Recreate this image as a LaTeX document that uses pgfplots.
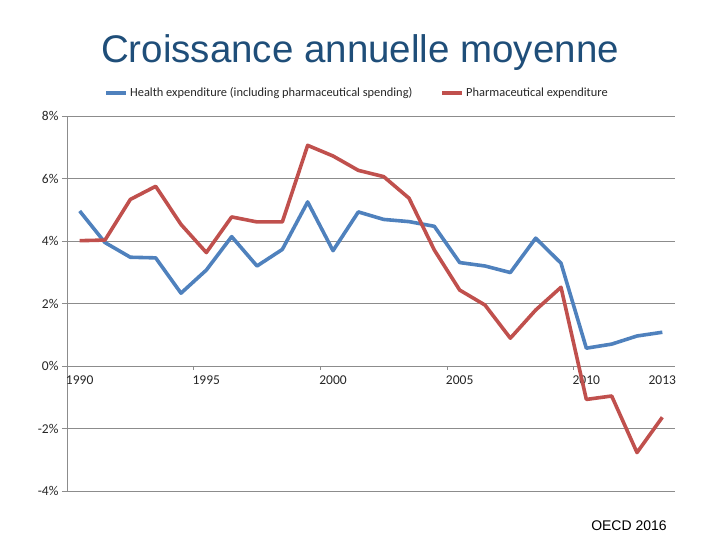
\documentclass[border=0pt]{standalone}
\usepackage{fontspec}
\setmainfont{Carlito}
\newfontfamily\arialfont{Liberation Sans}
\usepackage{pgfplots}
\pgfplotsset{compat=1.18}
\definecolor{hblue}{HTML}{4F81BD}
\definecolor{pred}{HTML}{C0504D}
\definecolor{axisgray}{HTML}{8C8C8C}
\definecolor{titleblue}{HTML}{1F4E79}

\begin{document}
\begin{tikzpicture}
\path[use as bounding box] (0,0) rectangle (720pt,540pt);
\node[anchor=base, font=\arialfont\fontsize{38.5}{42}\selectfont, text=titleblue, inner sep=0] at (360pt,477pt) {Croissance annuelle moyenne};
\begin{axis}[
    at={(67pt,49pt)}, anchor=south west,
    width=608pt, height=375pt, scale only axis,
    xmin=-0.5, xmax=23.5, ymin=-4, ymax=8,
    axis x line=middle, axis y line=left,
    axis line style={axisgray, line width=0.8pt, -},
    xtick={0,5,10,15,20,23},
    xticklabels={1990,1995,2000,2005,2010,2013},
    xtick style={draw=none},
    extra x ticks={4.5,9.5,14.5,19.5},
    extra x tick labels={},
    extra x tick style={xtick style={draw=axisgray, line width=0.8pt}, tick align=outside, major tick length=4pt},
    ytick={-4,-2,0,2,4,6,8},
    yticklabels={-4\%,-2\%,0\%,2\%,4\%,6\%,8\%},
    ytick style={axisgray, line width=0.8pt},
    tick align=outside, major tick length=5pt,
    ymajorgrids, major grid style={axisgray, line width=0.8pt},
    tick label style={font=\fontsize{13.5}{15}\selectfont, text=black!85},
    xticklabel style={yshift=-1pt},
    clip=false,
    legend columns=2,
    legend style={at={(0.477,1.0613)}, anchor=center, draw=none, fill=none,
        font=\fontsize{12.4}{14}\selectfont, text=black!85,
        /tikz/every even column/.append style={column sep=26pt}},
    legend cell align=left,
    legend image code/.code={\draw[#1, line width=3.8pt] (0pt,0pt) -- (20pt,0pt);},
]
% x = year - 1990
\addplot[hblue, line width=3.6pt, line join=round] coordinates {
 (0,4.96) (1,3.95) (2,3.48) (3,3.46) (4,2.33) (5,3.07)
 (6,4.14) (7,3.20) (8,3.73) (9,5.25) (10,3.69) (11,4.93)
 (12,4.69) (13,4.62) (14,4.47) (15,3.31) (16,3.20) (17,2.99)
 (18,4.09) (19,3.29) (20,0.57) (21,0.70) (22,0.96) (23,1.08)};
\addlegendentry{Health expenditure (including pharmaceutical spending)}
\addplot[pred, line width=3.6pt, line join=round] coordinates {
 (0,4.01) (1,4.03) (2,5.33) (3,5.75) (4,4.53) (5,3.63)
 (6,4.77) (7,4.61) (8,4.61) (9,7.06) (10,6.72) (11,6.26)
 (12,6.06) (13,5.37) (14,3.71) (15,2.43) (16,1.95) (17,0.89)
 (18,1.79) (19,2.52) (20,-1.07) (21,-0.96) (22,-2.77) (23,-1.64)};
\addlegendentry{Pharmaceutical expenditure}
\end{axis}
\node[anchor=base, font=\arialfont\fontsize{14}{16}\selectfont, inner sep=0] at (629pt,9pt) {OECD 2016};
\end{tikzpicture}
\end{document}
